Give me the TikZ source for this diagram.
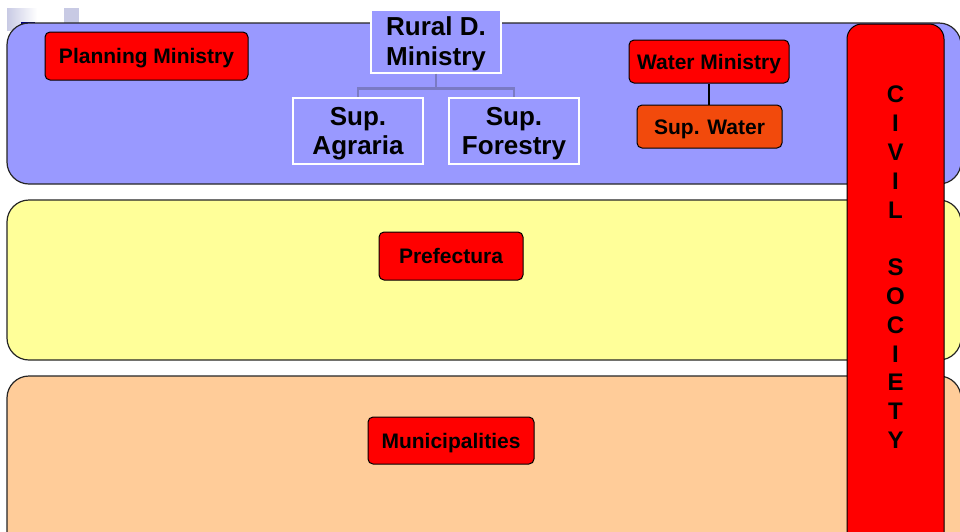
\documentclass[tikz,border=0pt]{standalone}
\usepackage{fontspec}
\setmainfont{Liberation Sans}
\usetikzlibrary{positioning}
\definecolor{bandblue}{HTML}{9999FF}
\definecolor{bandyellow}{HTML}{FFFF99}
\definecolor{bandorange}{HTML}{FFCC99}
\definecolor{supred}{HTML}{F24A0C}
\definecolor{linkblue}{HTML}{7A7AC4}
\definecolor{decogrey}{HTML}{C8CAE4}
\tikzset{
	band/.style = {
		draw=black!85,
		line width=1.2pt,
		rounded corners=22pt
	},
	node_red/.style = {
		draw=black,
		fill=red,
		line width=1pt,
		rounded corners=5pt,
		inner sep=0pt,
		text height=15pt,
		text depth=0pt,
		font=\fontsize{21}{24}\selectfont\bfseries
	},
	node_sup/.style = {
		node_red,
		fill=supred
	},
	node_white/.style = {
		draw=white,
		fill=bandblue,
		line width=2pt,
		inner sep=0pt,
		align=center,
		minimum width=130pt,
		text height=47.6pt,
		text depth=0pt,
		font=\fontsize{26}{29}\selectfont\bfseries
	},
	node_civil/.style = {
		draw=black,
		fill=red,
		line width=1pt,
		rounded corners=15pt,
		minimum width=97pt,
		minimum height=536pt
	},
}

\begin{document}
\begin{tikzpicture}[x=1pt,y=-1pt]
\useasboundingbox (0,0) rectangle (960,531);
\clip (0,0) rectangle (960,531);
\fill[white] (0,0) rectangle (960,531);
% corner marks
\shade[left color=decogrey, right color=white] (7,8) rectangle (37,30);
\fill[decogrey] (64,8) rectangle (79,23);
\fill[blue!50!black] (21,21.5) rectangle (35,23.5);
% bands
\draw[band, fill=bandblue] (7,23) rectangle (961,184);
\draw[band, fill=bandyellow] (7,200) rectangle (961,360);
\draw[band, fill=bandorange] (7,376) rectangle (961,570);
% ministries
\node[node_red, minimum width=203pt, minimum height=48pt] (planning) at (146.5,56) {Planning Ministry};
\node[node_white, minimum height=63pt, text height=48.6pt, font=\fontsize{26}{30}\selectfont\bfseries] (rural) at (436,41) {Rural D.\\Ministry};
\node[node_white, minimum height=66pt] (agraria) at (358,131) {Sup.\\Agraria};
\node[node_white, minimum height=66pt] (forestry) at (514,131) {Sup.\\Forestry};
\draw[linkblue, line width=2.5pt] (rural.south) -- ++(0,15) -| (agraria.north);
\draw[linkblue, line width=2.5pt] (rural.south) ++(0,15) -| (forestry.north);
\node[node_red, minimum width=160pt, minimum height=43pt] (water) at (709,61.5) {Water Ministry};
\node[node_sup, minimum width=145pt, minimum height=43pt] (supwater) at (709.5,126.5) {Sup. Water};
\draw[line width=2pt] (water.south) -- (water.south |- supwater.north);
% lower levels
\node[node_red, minimum width=144pt, minimum height=48pt] (prefectura) at (451,256) {Prefectura};
\node[node_red, minimum width=166pt, minimum height=47pt] (municipalities) at (451,440.5) {Municipalities};
% civil society
\node[node_civil] (civil) at (895.5,292) {};
\node[anchor=north, align=center, inner sep=0pt, font=\fontsize{24}{28.8}\selectfont\bfseries] (civil_text) at (895.5,86)
	{C\\I\\V\\I\\L\\\mbox{}\\S\\O\\C\\I\\E\\T\\Y};
\end{tikzpicture}
\end{document}
